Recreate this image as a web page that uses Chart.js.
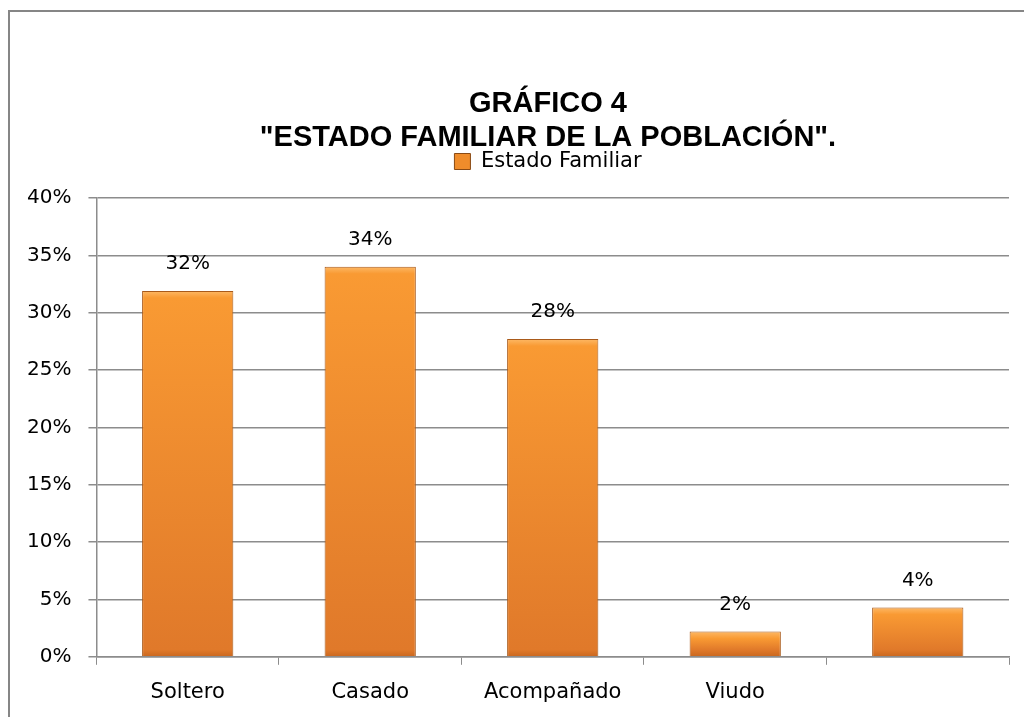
<!DOCTYPE html>
<html>
<head>
<meta charset="utf-8">
<script src="https://cdn.jsdelivr.net/npm/chart.js@4"></script>
<style>
  html, body { margin: 0; padding: 0; background: #fff; }
  #wrap { position: relative; width: 1024px; height: 717px; overflow: hidden; }
  #frame { position: absolute; left: 8px; top: 10px; width: 1030px; height: 720px; border: 2px solid #868686; box-sizing: border-box; }
  canvas { position: absolute; left: 0; top: 0; }
</style>
</head>
<body>
<div id="wrap">
  <div id="frame"></div>
  <canvas id="chart" width="1024" height="717"></canvas>
</div>
<script>
// DATA

const categories = ["Soltero", "Casado", "Acompañado", "Viudo", ""];
const values = [0.319, 0.34, 0.277, 0.022, 0.043];
const yTicks = [0, 0.05, 0.10, 0.15, 0.20, 0.25, 0.30, 0.35, 0.40];
const seriesName = "Estado Familiar";
const titleLines = ["GRÁFICO 4", "\"ESTADO FAMILIAR DE LA POBLACIÓN\"."];

const FONT = "'DejaVu Sans', sans-serif";

// header placement (title + legend sit centred over x=548)
const HEADER_CENTER_X = 548;
const TITLE_TOP = 87;
const LEGEND_TOP = 145;

// BAR FILL (bevelled orange, one gradient per bar)

function barFill(ctx) {
  const chart = ctx.chart;
  const y = chart.scales && chart.scales.y;
  if (ctx.type !== "data" || !y || !chart.chartArea) return "#EF8C2B";
  const top = y.getPixelForValue(ctx.raw);
  const bottom = y.getPixelForValue(0);
  const h = Math.max(bottom - top, 1);
  const edge = Math.min(7 / h, 0.3);
  const g = chart.ctx.createLinearGradient(0, top, 0, bottom);
  g.addColorStop(0, "#FDB865");
  g.addColorStop(edge, "#F99A33");
  g.addColorStop(Math.max(1 - edge, edge), "#E0792A");
  g.addColorStop(1, "#C9671F");
  return g;
}

// HEADER SHIFT

const headerShift = {
  id: "headerShift",
  afterLayout(chart) {
    const t = chart.titleBlock;
    const l = chart.legend;
    [[t, TITLE_TOP], [l, LEGEND_TOP]].forEach(([box, top]) => {
      if (!box) return;
      const dx = HEADER_CENTER_X - (box.left + box.right) / 2;
      const h = box.bottom - box.top;
      box.left += dx;
      box.right += dx;
      box.top = top;
      box.bottom = top + h;
    });
  }
};

// VALUE LABELS

const valueLabels = {
  id: "valueLabels",
  afterDatasetsDraw(chart) {
    const { ctx } = chart;
    const meta = chart.getDatasetMeta(0);
    ctx.save();
    ctx.font = "20px " + FONT;
    ctx.fillStyle = "#000";
    ctx.textAlign = "center";
    ctx.textBaseline = "middle";
    meta.data.forEach((bar, i) => {
      const txt = Math.round(values[i] * 100) + "%";
      ctx.fillText(txt, bar.x, bar.y - 27);
    });
    ctx.restore();
  }
};

// CHART

new Chart(document.getElementById("chart"), {
  type: "bar",
  data: {
    labels: categories,
    datasets: [{
      label: seriesName,
      data: values,
      backgroundColor: barFill,
      borderColor: "#A95A1A",
      borderWidth: 1,
      barPercentage: 0.5,
      categoryPercentage: 1.0
    }]
  },
  options: {
    responsive: false,
    animation: false,
    layout: { padding: { top: 93, left: 10, right: 15, bottom: -3 } },
    plugins: {
      title: {
        display: true,
        text: titleLines,
        color: "#000",
        font: { family: "'Liberation Sans', Arial, sans-serif", size: 29, weight: "bold", lineHeight: 1.172 },
        padding: { top: 0, bottom: 0 }
      },
      legend: {
        display: true,
        labels: {
          color: "#000",
          font: { family: FONT, size: 21 },
          boxWidth: 16,
          boxHeight: 16,
          padding: 6,
          generateLabels(chart) {
            return Chart.defaults.plugins.legend.labels.generateLabels(chart).map(item => ({
              ...item,
              fillStyle: "#EF8C2B",
              strokeStyle: "#8A4A14",
              lineWidth: 1
            }));
          }
        }
      },
      tooltip: { enabled: false }
    },
    scales: {
      x: {
        grid: { display: true, drawOnChartArea: false, drawTicks: true, tickLength: 8, color: "#8c8c8c", offset: true },
        border: { color: "#8c8c8c", width: 1.5 },
        ticks: { color: "#000", font: { family: FONT, size: 21 }, padding: 15 }
      },
      y: {
        min: 0,
        max: 0.40,
        afterBuildTicks(axis) { axis.ticks = yTicks.map(v => ({ value: v })); },
        grid: { color: "#8c8c8c", lineWidth: 1.5, tickLength: 8 },
        border: { color: "#8c8c8c", width: 1.5 },
        ticks: {
          color: "#000",
          font: { family: FONT, size: 20 },
          padding: 17,
          callback: v => Math.round(v * 100) + "%"
        }
      }
    }
  },
  plugins: [headerShift, valueLabels]
});
</script>
</body>
</html>
